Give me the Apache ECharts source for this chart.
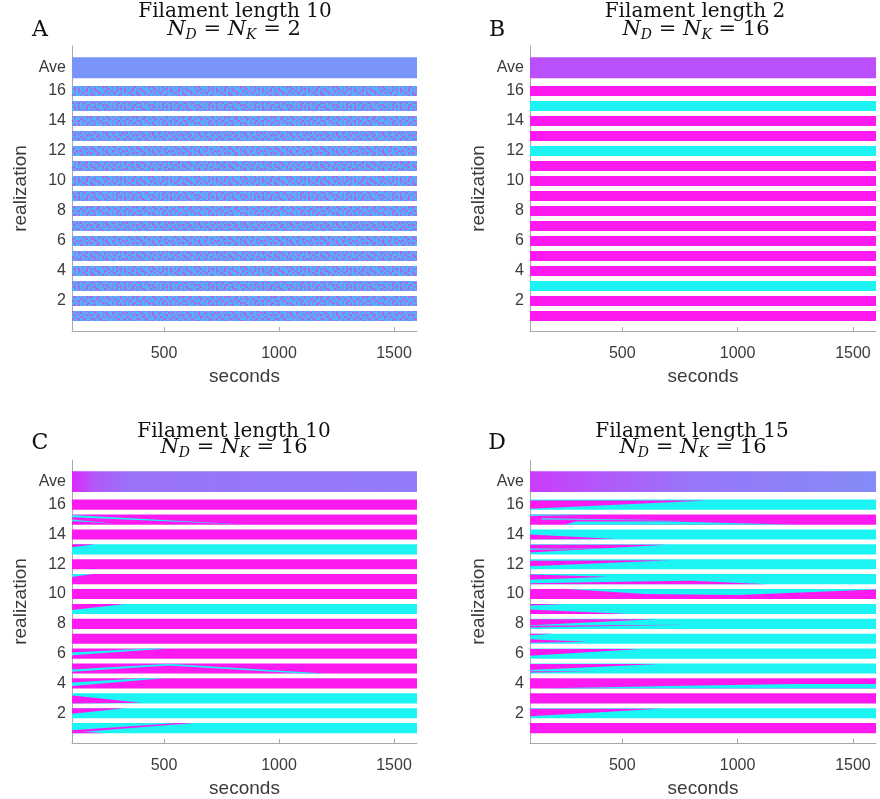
<!DOCTYPE html>
<html>
<head>
<meta charset="utf-8">
<script src="https://cdn.jsdelivr.net/npm/echarts@6/dist/echarts.min.js"></script>
<style>
  html, body { margin: 0; padding: 0; background: #fff; }
  #chart { width: 880px; height: 799px; }
</style>
</head>
<body>
<div id="chart"></div>
<script>
// ---- axes ----
const timeMin = 100;
const timeMax = 1600;
const secondTicks = [500, 1000, 1500];
const realizationTicks = [2, 4, 6, 8, 10, 12, 14, 16];
const aveRow = 17.55;

// ---- panel headings ----
const panelLetters = ['A', 'B', 'C', 'D'];
const filamentLengths = [10, 2, 10, 15];
const motorCounts = [2, 16, 16, 16];

// Final state of every realization, from realization 1 upward.
// 'M' = dynein-dominated (magenta), 'C' = kinesin-dominated (cyan), 'X' = mixed/fluctuating
const statesA = ['X','X','X','X','X','X','X','X','X','X','X','X','X','X','X','X'];
const statesB = ['M','M','C','M','M','M','M','M','M','M','M','C','M','M','C','M'];
const statesC = ['C','C','C','M','M','M','M','M','C','M','M','M','C','M','M','M'];
const statesD = ['M','C','M','M','C','C','C','C','C','M','C','C','C','C','M','C'];

// Transient regions: [realization, state, [[seconds, position along filament 0..1], ...]]
const regionsA = [];
const regionsB = [];
const regionsC = [
  [15, 'C', [[100, 0.72], [100, 0.95], [870, 0.0]]],
  [15, 'C', [[100, 0.35], [100, 0.5], [290, 0.1]]],
  [13, 'M', [[100, 0.7], [100, 1.0], [200, 1.0]]],
  [11, 'C', [[100, 0.72], [100, 1.0], [190, 1.0]]],
  [9,  'M', [[100, 0.4], [100, 1.0], [330, 1.0]]],
  [6,  'C', [[100, 0.35], [100, 0.62], [420, 1.0], [520, 1.0]]],
  [5,  'C', [[100, 0.18], [100, 0.4], [520, 0.98], [1200, 0.0], [1100, 0.0], [520, 0.8]]],
  [4,  'C', [[100, 0.25], [100, 0.6], [400, 1.0], [500, 1.0]]],
  [3,  'M', [[100, 0.0], [100, 0.78], [400, 0.05]]],
  [2,  'M', [[100, 0.45], [100, 1.0], [330, 1.0]]],
  [1,  'M', [[100, 0.05], [100, 0.3], [560, 1.0], [630, 1.0]]],
  [1,  'M', [[100, 0.0], [100, 0.22], [240, 0.0]]]
];
const regionsD = [
  [16, 'M', [[100, 0.1], [100, 0.92], [870, 0.92]]],
  [15, 'C', [[250, 0.0], [300, 0.3], [700, 0.32], [1260, 0.0]]],
  [15, 'C', [[100, 0.85], [100, 1.0], [420, 1.0]]],
  [15, 'C', [[150, 0.5], [150, 0.62], [800, 0.4]]],
  [14, 'M', [[100, 0.0], [100, 0.5], [470, 0.05]]],
  [13, 'M', [[100, 0.2], [100, 0.95], [690, 0.95]]],
  [13, 'C', [[100, 0.45], [100, 0.58], [450, 0.55]]],
  [12, 'M', [[100, 0.3], [100, 0.85], [710, 0.9]]],
  [11, 'M', [[100, 0.45], [100, 0.95], [440, 0.75]]],
  [11, 'M', [[100, 0.0], [100, 0.1], [500, 0.25], [800, 0.35], [1130, 0.0]]],
  [10, 'C', [[260, 1.0], [600, 0.5], [1000, 0.4], [1600, 0.95], [1600, 1.0]]],
  [9,  'M', [[100, 0.0], [100, 0.45], [530, 0.0]]],
  [9,  'M', [[100, 0.85], [100, 1.0], [250, 1.0]]],
  [8,  'M', [[100, 0.35], [100, 0.95], [640, 0.95]]],
  [8,  'M', [[100, 0.15], [100, 0.3], [780, 0.4]]],
  [7,  'M', [[100, 0.1], [100, 0.45], [350, 0.2]]],
  [7,  'M', [[100, 0.85], [100, 1.0], [200, 1.0]]],
  [6,  'M', [[100, 0.3], [100, 0.95], [580, 0.95]]],
  [5,  'M', [[100, 0.35], [100, 0.95], [660, 0.95]]],
  [5,  'M', [[100, 0.1], [100, 0.22], [380, 0.2]]],
  [4,  'C', [[150, 0.0], [700, 0.25], [1250, 0.45], [1600, 0.45], [1600, 0.0]]],
  [2,  'M', [[100, 0.2], [100, 0.95], [665, 0.95]]]
];

// Average over realizations: [seconds, kinesin fraction]
const aveA = [[100, 0.56], [1600, 0.56]];
const aveB = [[100, 0.3], [1600, 0.3]];
const aveC = [[100, 0.15], [200, 0.33], [350, 0.43], [1600, 0.46]];
const aveD = [[100, 0.22], [400, 0.33], [800, 0.44], [1600, 0.52]];

// ---- styling ----
const MAGENTA = '#fd1af0';
const CYAN = '#1cf3f3';
const STRIP_HALF = 0.34;
const AVE_HALF = 0.7;
const AXIS_GREY = '#a9a9a9';
const TEXT_GREY = '#3a3a3a';
const SANS = '"Liberation Sans", Arial, sans-serif';
const SERIF = '"DejaVu Serif", "Liberation Serif", serif';

// cool colour scale: magenta -> violet -> cyan
function coolColor(f) {
  const stops = [[0, [255, 0, 255]], [0.5, [138, 134, 248]], [1, [0, 255, 255]]];
  let a = stops[0], b = stops[1];
  if (f > 0.5) { a = stops[1]; b = stops[2]; }
  const u = (f - a[0]) / (b[0] - a[0]);
  const c = a[1].map((v, i) => Math.round(v + (b[1][i] - v) * u));
  return 'rgb(' + c.join(',') + ')';
}

// speckled texture used for fluctuating realizations
const speckleRows = [
  'cbmbccmbcbbcmcbcmbcbmcb',
  'bccmbcbcmcbmccbcbcmbccm',
  'mbcbcmcbcbcbcmbccbcbmcb',
  'cmbccbbmccmbcbcmbmcbcbc',
  'bcbmcbcmbcbccbmcbcbcmbm',
  'ccmbcbbcmbcmbcbccmbcbcb',
  'mbcbmcccbcbcbmcbmcbmccb',
  'cbcbcmbmccbcmcbcbcbcbmc',
  'bmcccbcbmcbcbbmcmcbcmcb'
];
const speckleColors = { c: '#56b0fa', b: '#7890f4', m: '#a66ae6' };
function makeSpeckle() {
  const px = 2;
  const cv = document.createElement('canvas');
  cv.width = speckleRows[0].length * px;
  cv.height = speckleRows.length * px;
  const ctx = cv.getContext('2d');
  speckleRows.forEach((row, j) => {
    for (let i = 0; i < row.length; i++) {
      ctx.fillStyle = speckleColors[row[i]];
      ctx.fillRect(i * px, j * px, px, px);
    }
  });
  return { image: cv, repeat: 'repeat' };
}
const speckle = makeSpeckle();

function stateFill(s) {
  if (s === 'M') return MAGENTA;
  if (s === 'C') return CYAN;
  return speckle;
}

function buildItems(states, regions, ave) {
  const items = [{ kind: 'ave', ave: ave }];
  states.forEach((s, i) => items.push({ kind: 'strip', r: i + 1, s: s }));
  regions.forEach(w => items.push({ kind: 'poly', r: w[0], s: w[1], pts: w[2] }));
  return items;
}

function makeRenderer(items) {
  return function (params, api) {
    const it = items[params.dataIndex];
    if (it.kind === 'ave') {
      const p0 = api.coord([timeMin, aveRow + AVE_HALF]);
      const p1 = api.coord([timeMax, aveRow - AVE_HALF]);
      const stops = it.ave.map(d => ({
        offset: (d[0] - timeMin) / (timeMax - timeMin),
        color: coolColor(d[1])
      }));
      return {
        type: 'rect',
        shape: { x: p0[0], y: p0[1], width: p1[0] - p0[0], height: p1[1] - p0[1] },
        style: { fill: new echarts.graphic.LinearGradient(0, 0, 1, 0, stops) }
      };
    }
    if (it.kind === 'strip') {
      const p0 = api.coord([timeMin, it.r + STRIP_HALF]);
      const p1 = api.coord([timeMax, it.r - STRIP_HALF]);
      return {
        type: 'rect',
        shape: { x: p0[0], y: p0[1], width: p1[0] - p0[0], height: p1[1] - p0[1] },
        style: { fill: stateFill(it.s) }
      };
    }
    const points = it.pts.map(p => api.coord([p[0], it.r - STRIP_HALF + 2 * STRIP_HALF * p[1]]));
    return {
      type: 'polygon',
      shape: { points: points },
      style: { fill: stateFill(it.s) }
    };
  };
}

const panels = [
  { states: statesA, regions: regionsA, ave: aveA },
  { states: statesB, regions: regionsB, ave: aveB },
  { states: statesC, regions: regionsC, ave: aveC },
  { states: statesD, regions: regionsD, ave: aveD }
];

const grids = [
  { left: 72, top: 46, width: 345, height: 285 },
  { left: 530, top: 46, width: 346, height: 285 },
  { left: 72, top: 460, width: 345, height: 285 },
  { left: 530, top: 460, width: 346, height: 285 }
];

const xAxes = grids.map((g, i) => ({
  gridIndex: i,
  type: 'value',
  min: timeMin,
  max: timeMax,
  name: 'seconds',
  nameLocation: 'middle',
  nameGap: 36,
  nameTextStyle: { fontSize: 19, color: TEXT_GREY, fontFamily: SANS },
  axisLine: { show: true, lineStyle: { color: AXIS_GREY, width: 1 } },
  axisTick: { show: true, inside: true, length: 4, customValues: secondTicks, lineStyle: { color: AXIS_GREY } },
  axisLabel: { customValues: secondTicks, formatter: v => String(v), fontSize: 16, color: TEXT_GREY, fontFamily: SANS, margin: 15 },
  splitLine: { show: false }
}));

const yAxes = grids.map((g, i) => ({
  gridIndex: i,
  type: 'value',
  min: 0,
  max: 19,
  name: 'realization',
  nameLocation: 'middle',
  nameRotate: 90,
  nameGap: 42,
  nameTextStyle: { fontSize: 19, color: TEXT_GREY, fontFamily: SANS },
  axisLine: { show: true, lineStyle: { color: AXIS_GREY, width: 1 } },
  axisTick: { show: false },
  axisLabel: {
    customValues: realizationTicks.concat([aveRow]),
    formatter: v => (Math.abs(v - aveRow) < 0.01 ? 'Ave' : String(v)),
    fontSize: 16,
    color: TEXT_GREY,
    fontFamily: SANS,
    margin: 6
  },
  splitLine: { show: false }
}));

const series = panels.map((p, i) => {
  const items = buildItems(p.states, p.regions, p.ave);
  return {
    type: 'custom',
    xAxisIndex: i,
    yAxisIndex: i,
    clip: true,
    renderItem: makeRenderer(items),
    encode: { x: 0, y: 1 },
    data: items.map((it, k) => [timeMin, 1, k]),
    silent: true
  };
});

// headings
const headPos = [
  { letter: [40, 30], title: [235, 12], sub: [234, 30] },
  { letter: [497, 30], title: [695, 12], sub: [696, 30] },
  { letter: [40, 443], title: [234, 432], sub: [234, 448] },
  { letter: [497, 443], title: [692, 432], sub: [693, 448] }
];
const graphics = [];
headPos.forEach((h, i) => {
  graphics.push({
    type: 'text', x: h.letter[0], y: h.letter[1],
    style: { text: panelLetters[i], font: '22px ' + SERIF, fill: '#111', align: 'center', verticalAlign: 'middle' }
  });
  graphics.push({
    type: 'text', x: h.title[0], y: h.title[1],
    style: { text: 'Filament length ' + filamentLengths[i], font: '20px ' + SERIF, fill: '#111', align: 'center', verticalAlign: 'middle' }
  });
  graphics.push({
    type: 'text', x: h.sub[0], y: h.sub[1],
    style: {
      text: '{n|N}{s|D}{t| = }{n|N}{s|K}{t| = ' + motorCounts[i] + '}',
      align: 'center', verticalAlign: 'middle',
      rich: {
        n: { fontFamily: SERIF, fontStyle: 'italic', fontSize: 21, lineHeight: 24, fill: '#111' },
        s: { fontFamily: SERIF, fontStyle: 'italic', fontSize: 14, lineHeight: 9, verticalAlign: 'bottom', fill: '#111' },
        t: { fontFamily: SERIF, fontSize: 21, lineHeight: 24, fill: '#111' }
      }
    }
  });
});

const chart = echarts.init(document.getElementById('chart'), null, { renderer: 'canvas' });
chart.setOption({
  backgroundColor: '#ffffff',
  animation: false,
  grid: grids,
  xAxis: xAxes,
  yAxis: yAxes,
  series: series,
  graphic: graphics
});
</script>
</body>
</html>
